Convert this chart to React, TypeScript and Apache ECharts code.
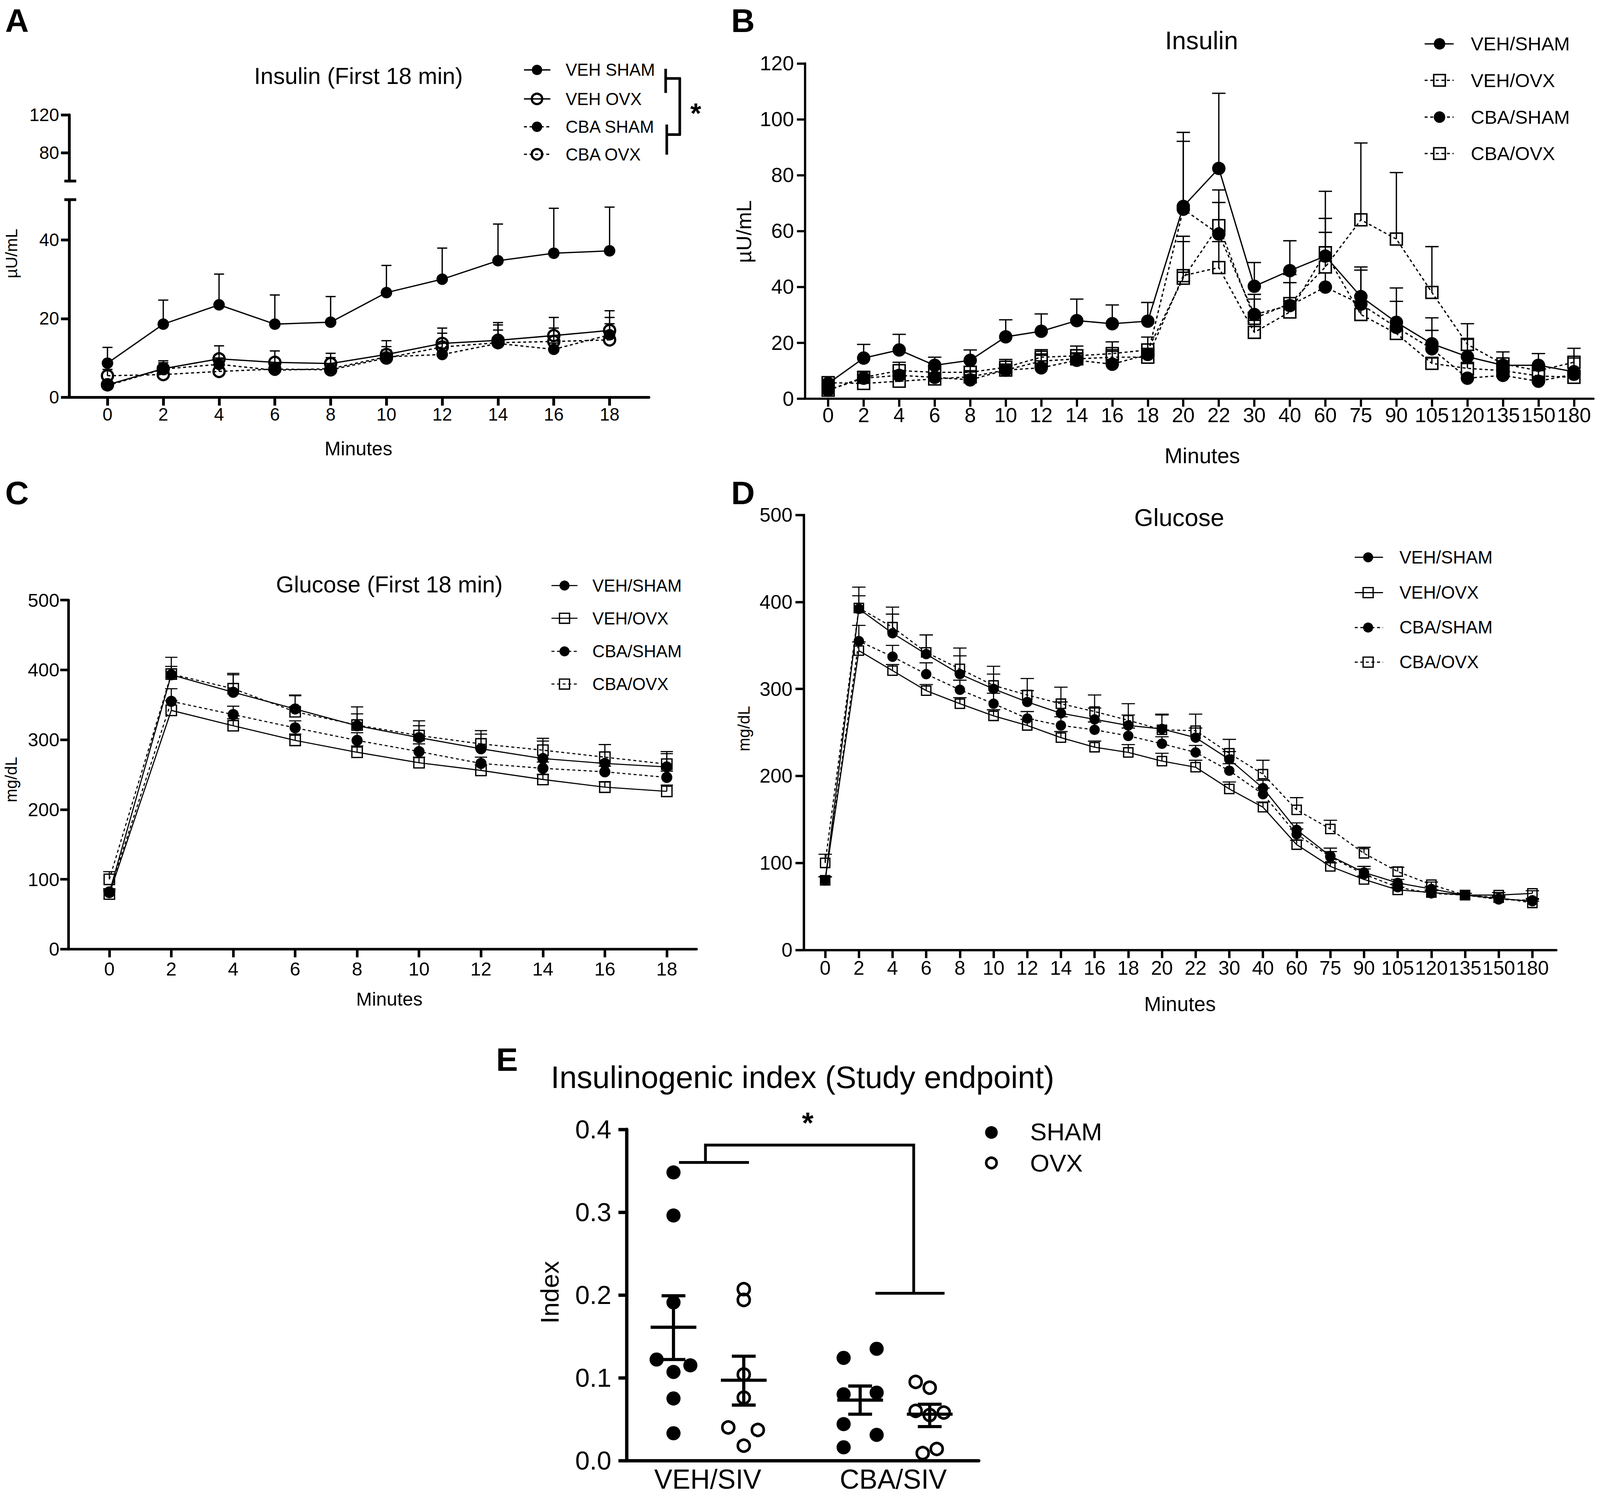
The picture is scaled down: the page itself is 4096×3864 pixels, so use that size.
import { useEffect, useRef } from 'react';
import * as echarts from 'echarts';

const K = 0.952;
const S = (v: number) => v * K;
const FONT = '"Liberation Sans", Arial, Helvetica, sans-serif';
const BLACK = '#000000';
const OPEN = 'rgba(255,255,255,0)';

// ---------------- Panel A : Insulin (first 18 min)
const minutesA = [0, 2, 4, 6, 8, 10, 12, 14, 16, 18];
const aLowerTicks = [0, 20, 40];
const aUpperTicks = [80, 120];
const aVehSham = [8.7, 18.6, 23.5, 18.6, 19.1, 26.6, 30.0, 34.7, 36.6, 37.2];
const aVehShamUp = [12.7, 24.7, 31.3, 26.0, 25.6, 33.5, 37.9, 44.0, 48.0, 48.3];
const aVehOvx = [3.2, 7.3, 9.8, 8.9, 8.6, 10.9, 13.7, 14.5, 15.7, 17.0];
const aVehOvxUp = [4.2, 9.3, 13.1, 11.8, 11.2, 14.4, 17.6, 19.0, 20.3, 22.0];
const aCbaSham = [3.0, 7.2, 8.4, 6.9, 7.3, 10.3, 10.9, 13.7, 12.2, 15.9];
const aCbaShamUp = [3.8, 8.8, 10.0, 8.3, 8.6, 12.1, 12.5, 17.1, 13.8, 18.7];
const aCbaOvx = [5.5, 5.8, 6.6, 7.2, 7.0, 10.0, 12.8, 13.9, 14.2, 14.6];
const aCbaOvxUp = [7.1, 7.2, 8.0, 8.6, 10.1, 12.9, 16.3, 18.4, 17.6, 20.3];

// ---------------- Panels B & D : full time course (categorical minutes)
const minuteLabels = ['0', '2', '4', '6', '8', '10', '12', '14', '16', '18', '20', '22', '30', '40', '60', '75', '90', '105', '120', '135', '150', '180'];
const idxFull = minuteLabels.map((_, i) => i);
const bTicks = [0, 20, 40, 60, 80, 100, 120];
const bVehSham = [5.4, 14.5, 17.4, 11.9, 13.7, 22.1, 24.1, 27.9, 26.8, 27.7, 68.8, 82.4, 40.2, 45.8, 51.0, 36.5, 27.3, 19.6, 15.0, 11.9, 11.9, 9.6];
const bVehShamUp = [6.8, 19.4, 23.0, 14.8, 17.4, 28.2, 30.3, 35.6, 33.5, 34.4, 95.3, 109.3, 48.7, 56.5, 74.2, 47.1, 39.6, 28.9, 21.2, 16.7, 16.1, 18.0];
const bVehOvx = [5.7, 5.4, 6.2, 7.0, 7.8, 10.2, 13.4, 14.2, 14.8, 14.8, 44.0, 46.9, 23.7, 31.0, 52.2, 30.1, 23.3, 12.6, 10.8, 10.0, 8.1, 7.6];
const bVehOvxUp = [6.5, 7.0, 8.0, 8.8, 9.5, 12.0, 16.0, 17.5, 17.5, 17.5, 56.2, 56.2, 28.0, 35.0, 64.5, 36.9, 26.0, 14.5, 12.5, 11.5, 10.0, 9.0];
const bCbaSham = [3.0, 7.3, 8.3, 7.6, 6.7, 10.2, 11.0, 13.7, 12.3, 15.8, 67.8, 58.9, 30.1, 33.3, 39.9, 33.8, 25.5, 17.8, 7.3, 8.3, 6.2, 8.7];
const bCbaShamUp = [4.5, 8.5, 10.0, 9.0, 8.5, 12.0, 13.5, 16.0, 14.0, 18.0, 92.1, 70.2, 37.3, 41.5, 45.0, 46.0, 34.8, 24.4, 8.5, 9.5, 7.5, 10.0];
const bCbaOvx = [3.0, 7.6, 10.0, 9.4, 9.4, 11.2, 14.8, 15.3, 16.1, 17.4, 43.1, 61.9, 28.7, 34.0, 47.1, 64.0, 57.1, 38.0, 19.4, 12.4, 10.0, 13.0];
const bCbaOvxUp = [4.5, 9.5, 13.0, 11.5, 11.5, 14.0, 17.5, 18.8, 20.3, 22.0, 58.1, 74.7, 35.6, 44.4, 59.5, 91.5, 80.9, 54.4, 26.8, 13.5, 11.5, 14.5];

// ---------------- Panel C : Glucose (first 18 min)
const glucoseTicks = [0, 100, 200, 300, 400, 500];
const cVehSham = [81, 393, 368, 344, 320, 303, 287, 273, 266, 261];
const cVehShamUp = [86, 418, 395, 364, 347, 327, 313, 302, 293, 283];
const cVehOvx = [79, 342, 320, 299, 282, 267, 256, 243, 232, 226];
const cVehOvxUp = [83, 356, 330, 308, 291, 275, 264, 250, 240, 235];
const cCbaSham = [82, 355, 336, 317, 299, 283, 266, 259, 254, 246];
const cCbaShamUp = [86, 373, 348, 327, 310, 294, 275, 268, 262, 255];
const cCbaOvx = [100, 394, 373, 340, 321, 306, 294, 285, 275, 265];
const cCbaOvxUp = [111, 405, 393, 363, 337, 320, 308, 298, 293, 280];

// ---------------- Panel D : Glucose (full)
const dVehSham = [80, 392, 364, 340, 317, 300, 285, 272, 265, 258, 254, 244, 219, 186, 138, 108, 89, 77, 70, 63, 59, 56];
const dVehShamUp = [84, 417, 386, 362, 338, 317, 298, 285, 278, 270, 271, 255, 228, 195, 146, 117, 96, 81, 73, 65, 61, 58];
const dVehOvx = [80, 344, 321, 298, 283, 269, 258, 244, 233, 227, 217, 210, 185, 164, 121, 96, 81, 69, 66, 63, 63, 65];
const dVehOvxUp = [84, 354, 328, 305, 290, 276, 265, 251, 240, 236, 226, 218, 193, 170, 126, 100, 85, 72, 69, 65, 66, 68];
const dCbaSham = [80, 355, 337, 317, 299, 283, 266, 258, 253, 246, 237, 227, 206, 179, 133, 107, 87, 72, 65, 63, 58, 57];
const dCbaShamUp = [84, 373, 350, 330, 310, 295, 274, 268, 262, 255, 245, 235, 214, 186, 139, 113, 93, 76, 68, 65, 60, 59];
const dCbaOvx = [100, 393, 371, 342, 323, 304, 293, 283, 274, 264, 253, 252, 226, 202, 161, 139, 111, 90, 75, 63, 60, 54];
const dCbaOvxUp = [110, 407, 394, 362, 347, 326, 312, 302, 293, 283, 270, 271, 242, 218, 175, 149, 118, 95, 78, 65, 62, 56];

// ---------------- Panel E : Insulinogenic index
const eGroupLabels = ['VEH/SIV', 'CBA/SIV'];
const eTicks = [0, 0.1, 0.2, 0.3, 0.4];
const eVehSham = [0.348, 0.296, 0.191, 0.122, 0.115, 0.107, 0.075, 0.033];
const eVehShamJit = [0, 0, 0, -0.24, 0.24, 0, 0, 0];
const eVehOvx = [0.207, 0.194, 0.104, 0.076, 0.040, 0.037, 0.018];
const eVehOvxJit = [0, 0, 0, 0, -0.22, 0.2, 0];
const eCbaSham = [0.135, 0.124, 0.082, 0.080, 0.044, 0.031, 0.016];
const eCbaShamJit = [0.235, -0.235, 0.235, -0.235, -0.235, 0.235, -0.235];
const eCbaOvx = [0.095, 0.088, 0.060, 0.058, 0.055, 0.014, 0.009];
const eCbaOvxJit = [-0.2, 0, -0.2, 0.2, 0, 0.1, -0.1];
const eMean = [0.161, 0.097, 0.073, 0.056];
const eSemLow = [0.122, 0.067, 0.056, 0.041];
const eSemHigh = [0.199, 0.126, 0.090, 0.068];
const eSig = { leftBarY: 0.36, topY: 0.381, rightBarY: 0.202, starY: 0.408 };

// ---------------- layout (reference pixels, scaled by S)
const E_COLS = [1, 2, 3.656, 4.646];
const E_LABEL_X = [1.487, 4.127];

function errorBars(ax: number, xs: number[], means: number[], ups: number[], cap: number, lw: number) {
  return {
    type: 'custom', xAxisIndex: ax, yAxisIndex: ax, clip: false, silent: true, z: 2,
    data: xs.map((x, i) => [x, means[i], ups[i]]),
    encode: { x: 0, y: [1, 2] },
    renderItem: (_p: any, api: any) => {
      const a = api.coord([api.value(0), api.value(1)]);
      const b = api.coord([api.value(0), api.value(2)]);
      const hw = S(cap) / 2;
      const st = { stroke: BLACK, lineWidth: S(lw) };
      return {
        type: 'group', children: [
          { type: 'line', shape: { x1: a[0], y1: a[1], x2: b[0], y2: b[1] }, style: st },
          { type: 'line', shape: { x1: b[0] - hw, y1: b[1], x2: b[0] + hw, y2: b[1] }, style: st },
        ],
      };
    },
  };
}

function curve(ax: number, xs: number[], ys: number[], o: any) {
  return {
    type: 'line', xAxisIndex: ax, yAxisIndex: ax, z: 3, silent: true,
    data: xs.map((x, i) => [x, ys[i]]),
    symbol: o.symbol, symbolSize: S(o.size), showSymbol: true, showAllSymbol: true,
    lineStyle: { color: BLACK, width: S(o.lw), type: o.dashed ? [S(8), S(7)] : 'solid' },
    itemStyle: o.filled
      ? { color: BLACK, borderColor: BLACK, borderWidth: 0, opacity: 1 }
      : { color: OPEN, borderColor: BLACK, borderWidth: S(o.bw), opacity: 1 },
    emphasis: { disabled: true },
  };
}

function xAx(grid: number, min: number, max: number, ticks: number[] | null, fmt: any, fs: number, lw: number, margin: number) {
  return {
    type: 'value', gridIndex: grid, min, max,
    axisLine: { show: true, onZero: false, lineStyle: { color: BLACK, width: S(lw) } },
    axisTick: ticks ? { show: true, customValues: ticks, length: S(22), lineStyle: { color: BLACK, width: S(lw) } } : { show: false },
    axisLabel: { show: true, customValues: ticks || E_LABEL_X, formatter: fmt, fontSize: S(fs), fontFamily: FONT, color: BLACK, margin: S(margin) },
    splitLine: { show: false },
  };
}

function yAx(grid: number, min: number, max: number, ticks: number[], fmt: any, fs: number, lw: number, margin: number) {
  return {
    type: 'value', gridIndex: grid, min, max,
    axisLine: { show: true, onZero: false, lineStyle: { color: BLACK, width: S(lw) } },
    axisTick: { show: true, customValues: ticks, length: S(22), lineStyle: { color: BLACK, width: S(lw) } },
    axisLabel: { show: true, customValues: ticks, formatter: fmt, fontSize: S(fs), fontFamily: FONT, color: BLACK, margin: S(margin) },
    splitLine: { show: false },
  };
}

function gridBox(l: number, t: number, r: number, b: number) {
  return { left: S(l), top: S(t), width: S(r - l), height: S(b - t), containLabel: false, outerBoundsMode: 'none' };
}

const g: any[] = [];
function txt(x: number, y: number, text: string, size: number, o: any = {}) {
  const align = o.align || 'center';
  g.push({
    type: 'text', x: S(x), y: S(y), rotation: o.rot || 0, silent: true,
    style: {
      text, x: 0, y: 0, fontSize: S(size), fontFamily: FONT, fontWeight: o.bold ? 'bold' : 'normal',
      fill: BLACK, align, verticalAlign: 'middle', textAlign: align, textVerticalAlign: 'middle',
    },
  });
}
function seg(x1: number, y1: number, x2: number, y2: number, w: number, dashed = false) {
  g.push({
    type: 'line', silent: true, shape: { x1: S(x1), y1: S(y1), x2: S(x2), y2: S(y2) },
    style: { stroke: BLACK, lineWidth: S(w), lineDash: dashed ? [S(8), S(7)] : null },
  });
}
function marker(kind: string, filled: boolean, cx: number, cy: number, size: number, bw: number) {
  if (kind === 'circle') {
    g.push({ type: 'circle', silent: true, shape: { cx: S(cx), cy: S(cy), r: S(size / 2) }, style: { fill: filled ? BLACK : OPEN, stroke: BLACK, lineWidth: filled ? 0 : S(bw) } });
  } else {
    g.push({ type: 'rect', silent: true, shape: { x: S(cx - size / 2), y: S(cy - size / 2), width: S(size), height: S(size) }, style: { fill: filled ? BLACK : OPEN, stroke: BLACK, lineWidth: S(bw) } });
  }
}
function legendBlock(rows: any[], mx: number, lx1: number, lx2: number, tx: number, ys: number[], fs: number, msize: number, lw: number, bw: number) {
  rows.forEach((r, i) => {
    seg(lx1, ys[i], lx2, ys[i], lw, r.dashed);
    marker(r.kind, r.filled, mx, ys[i], msize, bw);
    txt(tx, ys[i], r.label, fs, { align: 'left' });
  });
}

// panel letters
txt(14, 56, 'A', 88, { bold: true, align: 'left' });
txt(1966, 56, 'B', 88, { bold: true, align: 'left' });
txt(14, 1326, 'C', 88, { bold: true, align: 'left' });
txt(1966, 1326, 'D', 88, { bold: true, align: 'left' });
txt(1334, 2850, 'E', 88, { bold: true, align: 'left' });

// Panel A texts
txt(964, 205, 'Insulin (First 18 min)', 62);
txt(964, 1206, 'Minutes', 52);
txt(30, 682, 'µU/mL', 45, { rot: Math.PI / 2 });
legendBlock(
  [
    { label: 'VEH SHAM', kind: 'circle', filled: true, dashed: false },
    { label: 'VEH OVX', kind: 'circle', filled: false, dashed: false },
    { label: 'CBA SHAM', kind: 'circle', filled: true, dashed: true },
    { label: 'CBA OVX', kind: 'circle', filled: false, dashed: true },
  ],
  1444, 1409, 1480, 1521, [188, 266, 341, 415], 46, 28, 3.5, 6,
);
// significance bracket A
seg(1790, 185, 1790, 250, 7);
seg(1790, 211, 1831, 211, 7);
seg(1793, 335, 1793, 416, 7);
seg(1793, 362, 1831, 362, 7);
seg(1828, 211, 1828, 362, 7);
txt(1871, 305, '*', 75, { bold: true });
// axis break caps A
seg(173, 537, 205, 537, 7.5);
seg(173, 487, 205, 487, 7.5);

// Panel B texts
txt(3231, 109, 'Insulin', 68);
txt(3233, 1226, 'Minutes', 58);
txt(2000, 623, 'µU/mL', 57, { rot: Math.PI / 2 });
legendBlock(
  [
    { label: 'VEH/SHAM', kind: 'circle', filled: true, dashed: false },
    { label: 'VEH/OVX', kind: 'rect', filled: false, dashed: true },
    { label: 'CBA/SHAM', kind: 'circle', filled: true, dashed: true },
    { label: 'CBA/OVX', kind: 'rect', filled: false, dashed: true },
  ],
  3871, 3831, 3909, 3955, [118, 216, 315, 413], 51, 31, 3.5, 4,
);

// Panel C texts
txt(1047, 1573, 'Glucose (First 18 min)', 62);
txt(1047, 2687, 'Minutes', 51);
txt(30, 2097, 'mg/dL', 44, { rot: Math.PI / 2 });
legendBlock(
  [
    { label: 'VEH/SHAM', kind: 'circle', filled: true, dashed: false },
    { label: 'VEH/OVX', kind: 'rect', filled: false, dashed: false },
    { label: 'CBA/SHAM', kind: 'circle', filled: true, dashed: true },
    { label: 'CBA/OVX', kind: 'rect', filled: false, dashed: true },
  ],
  1518, 1483, 1553, 1593, [1575, 1663, 1752, 1840], 46, 27, 3, 3.5,
);

// Panel D texts
txt(3171, 1392, 'Glucose', 66);
txt(3173, 2701, 'Minutes', 55);
txt(2000, 1960, 'mg/dL', 44, { rot: Math.PI / 2 });
legendBlock(
  [
    { label: 'VEH/SHAM', kind: 'circle', filled: true, dashed: false },
    { label: 'VEH/OVX', kind: 'rect', filled: false, dashed: false },
    { label: 'CBA/SHAM', kind: 'circle', filled: true, dashed: true },
    { label: 'CBA/OVX', kind: 'rect', filled: false, dashed: true },
  ],
  3679, 3643, 3719, 3763, [1499, 1594, 1688, 1781], 48, 27, 3, 3.5,
);

// Panel E texts
txt(2158, 2898, 'Insulinogenic index (Study endpoint)', 84);
txt(1478, 3476, 'Index', 69, { rot: Math.PI / 2 });
marker('circle', true, 2666, 3046, 34, 5);
marker('circle', false, 2666, 3128, 28, 7);
txt(2770, 3044, 'SHAM', 67, { align: 'left' });
txt(2770, 3128, 'OVX', 67, { align: 'left' });

const fmtInt = (v: number) => String(Math.round(v));
const fmtCat = (v: number) => minuteLabels[Math.round(v)] ?? '';

const filledDot = { color: BLACK, opacity: 1 };
const openDot = { color: OPEN, borderColor: BLACK, borderWidth: S(7), opacity: 1 };

const option: any = {
  animation: false,
  backgroundColor: '#ffffff',
  grid: [
    gridBox(186, 538, 1745, 1069), // 0 A lower
    gridBox(186, 309, 1745, 487), // 1 A upper
    gridBox(2165, 170.5, 4285, 1072), // 2 B
    gridBox(184, 1614, 1873, 2553), // 3 C
    gridBox(2161, 1385, 4185, 2555), // 4 D
    gridBox(1685, 3037.7, 2632, 3928.5), // 5 E
  ],
  xAxis: [
    xAx(0, -1.373, 19.41, minutesA, fmtInt, 48, 7.5, 22),
    { type: 'value', gridIndex: 1, min: -1.373, max: 19.41, show: false },
    xAx(2, -0.649, 21.55, idxFull, fmtCat, 55, 6, 17),
    xAx(3, -1.321, 18.96, minutesA, fmtInt, 51, 7, 27),
    xAx(4, -0.64, 21.71, idxFull, fmtCat, 53, 6.5, 22),
    xAx(5, 0.333, 5.344, null, (v: number) => (v < 3 ? eGroupLabels[0] : eGroupLabels[1]), 73, 9, 14),
  ],
  yAxis: [
    yAx(0, 0, 50.1, aLowerTicks, fmtInt, 48, 7.5, 27),
    yAx(1, 50, 120, aUpperTicks, fmtInt, 48, 7.5, 27),
    yAx(2, 0, 120, bTicks, fmtInt, 55, 6, 30),
    yAx(3, 0, 500, glucoseTicks, fmtInt, 51, 7, 24),
    yAx(4, 0, 500, glucoseTicks, fmtInt, 53, 6.5, 30),
    yAx(5, 0, 0.4, eTicks, (v: number) => v.toFixed(1), 70, 9, 41),
  ],
  graphic: { elements: g },
  series: [
    // Panel A
    errorBars(0, minutesA, aCbaOvx, aCbaOvxUp, 27, 3.5),
    errorBars(0, minutesA, aCbaSham, aCbaShamUp, 27, 3.5),
    errorBars(0, minutesA, aVehOvx, aVehOvxUp, 27, 3.5),
    errorBars(0, minutesA, aVehSham, aVehShamUp, 27, 3.5),
    curve(0, minutesA, aCbaOvx, { symbol: 'circle', size: 30, lw: 3.5, dashed: true, filled: false, bw: 6 }),
    curve(0, minutesA, aCbaSham, { symbol: 'circle', size: 31, lw: 3.5, dashed: true, filled: true }),
    curve(0, minutesA, aVehOvx, { symbol: 'circle', size: 30, lw: 3.5, dashed: false, filled: false, bw: 6 }),
    curve(0, minutesA, aVehSham, { symbol: 'circle', size: 31, lw: 3.5, dashed: false, filled: true }),
    // Panel B
    errorBars(2, idxFull, bCbaOvx, bCbaOvxUp, 36, 3.5),
    errorBars(2, idxFull, bVehOvx, bVehOvxUp, 36, 3.5),
    errorBars(2, idxFull, bCbaSham, bCbaShamUp, 36, 3.5),
    errorBars(2, idxFull, bVehSham, bVehShamUp, 36, 3.5),
    curve(2, idxFull, bCbaOvx, { symbol: 'rect', size: 32, lw: 3.5, dashed: true, filled: false, bw: 4 }),
    curve(2, idxFull, bVehOvx, { symbol: 'rect', size: 32, lw: 3.5, dashed: true, filled: false, bw: 4 }),
    curve(2, idxFull, bCbaSham, { symbol: 'circle', size: 36, lw: 3.5, dashed: true, filled: true }),
    curve(2, idxFull, bVehSham, { symbol: 'circle', size: 36, lw: 3.5, dashed: false, filled: true }),
    // Panel C
    errorBars(3, minutesA, cCbaOvx, cCbaOvxUp, 33, 3),
    errorBars(3, minutesA, cVehOvx, cVehOvxUp, 33, 3),
    errorBars(3, minutesA, cCbaSham, cCbaShamUp, 33, 3),
    errorBars(3, minutesA, cVehSham, cVehShamUp, 33, 3),
    curve(3, minutesA, cCbaOvx, { symbol: 'rect', size: 28, lw: 3, dashed: true, filled: false, bw: 3.5 }),
    curve(3, minutesA, cVehOvx, { symbol: 'rect', size: 28, lw: 3, dashed: false, filled: false, bw: 3.5 }),
    curve(3, minutesA, cCbaSham, { symbol: 'circle', size: 30, lw: 3, dashed: true, filled: true }),
    curve(3, minutesA, cVehSham, { symbol: 'circle', size: 30, lw: 3, dashed: false, filled: true }),
    // Panel D
    errorBars(4, idxFull, dCbaOvx, dCbaOvxUp, 36, 3),
    errorBars(4, idxFull, dVehOvx, dVehOvxUp, 36, 3),
    errorBars(4, idxFull, dCbaSham, dCbaShamUp, 36, 3),
    errorBars(4, idxFull, dVehSham, dVehShamUp, 36, 3),
    curve(4, idxFull, dCbaOvx, { symbol: 'rect', size: 25, lw: 3, dashed: true, filled: false, bw: 3.5 }),
    curve(4, idxFull, dVehOvx, { symbol: 'rect', size: 25, lw: 3, dashed: false, filled: false, bw: 3.5 }),
    curve(4, idxFull, dCbaSham, { symbol: 'circle', size: 28, lw: 3, dashed: true, filled: true }),
    curve(4, idxFull, dVehSham, { symbol: 'circle', size: 28, lw: 3, dashed: false, filled: true }),
    // Panel E scatter
    {
      type: 'scatter', xAxisIndex: 5, yAxisIndex: 5, z: 3, silent: true, symbol: 'circle', symbolSize: S(38),
      data: eVehSham.map((v, i) => [E_COLS[0] + eVehShamJit[i], v]), itemStyle: filledDot,
    },
    {
      type: 'scatter', xAxisIndex: 5, yAxisIndex: 5, z: 3, silent: true, symbol: 'circle', symbolSize: S(32),
      data: eVehOvx.map((v, i) => [E_COLS[1] + eVehOvxJit[i], v]), itemStyle: openDot,
    },
    {
      type: 'scatter', xAxisIndex: 5, yAxisIndex: 5, z: 3, silent: true, symbol: 'circle', symbolSize: S(38),
      data: eCbaSham.map((v, i) => [E_COLS[2] + eCbaShamJit[i], v]), itemStyle: filledDot,
    },
    {
      type: 'scatter', xAxisIndex: 5, yAxisIndex: 5, z: 3, silent: true, symbol: 'circle', symbolSize: S(32),
      data: eCbaOvx.map((v, i) => [E_COLS[3] + eCbaOvxJit[i], v]), itemStyle: openDot,
    },
    // Panel E mean ± SEM
    {
      type: 'custom', xAxisIndex: 5, yAxisIndex: 5, clip: false, silent: true, z: 4,
      data: E_COLS.map((c, i) => [c, eMean[i], eSemLow[i], eSemHigh[i]]),
      encode: { x: 0, y: [1, 2, 3] },
      renderItem: (_p: any, api: any) => {
        const m = api.coord([api.value(0), api.value(1)]);
        const lo = api.coord([api.value(0), api.value(2)]);
        const hi = api.coord([api.value(0), api.value(3)]);
        const st = { stroke: BLACK, lineWidth: S(8.5) };
        const mw = S(61.5), cw = S(32);
        return {
          type: 'group', children: [
            { type: 'line', shape: { x1: m[0] - mw, y1: m[1], x2: m[0] + mw, y2: m[1] }, style: st },
            { type: 'line', shape: { x1: lo[0], y1: lo[1], x2: hi[0], y2: hi[1] }, style: st },
            { type: 'line', shape: { x1: lo[0] - cw, y1: lo[1], x2: lo[0] + cw, y2: lo[1] }, style: st },
            { type: 'line', shape: { x1: hi[0] - cw, y1: hi[1], x2: hi[0] + cw, y2: hi[1] }, style: st },
          ],
        };
      },
    },
    // Panel E significance bracket
    {
      type: 'custom', xAxisIndex: 5, yAxisIndex: 5, clip: false, silent: true, z: 4,
      data: [[E_COLS[0], eSig.topY]],
      renderItem: (_p: any, api: any) => {
        const c = (x: number, y: number) => api.coord([x, y]);
        const st = { stroke: BLACK, lineWidth: S(7.5), fill: null };
        const l1 = c(1.079, eSig.leftBarY), l2 = c(2.074, eSig.leftBarY);
        const p = [c(1.455, eSig.leftBarY), c(1.455, eSig.topY), c(4.418, eSig.topY), c(4.418, eSig.rightBarY)];
        const r1 = c(3.873, eSig.rightBarY), r2 = c(4.857, eSig.rightBarY);
        const star = c(2.91, eSig.starY);
        return {
          type: 'group', children: [
            { type: 'line', shape: { x1: l1[0], y1: l1[1], x2: l2[0], y2: l2[1] }, style: st },
            { type: 'polyline', shape: { points: p }, style: st },
            { type: 'line', shape: { x1: r1[0], y1: r1[1], x2: r2[0], y2: r2[1] }, style: st },
            {
              type: 'text', x: star[0], y: star[1],
              style: { text: '*', fontSize: S(80), fontWeight: 'bold', fontFamily: FONT, fill: BLACK, align: 'center', verticalAlign: 'middle', textAlign: 'center', textVerticalAlign: 'middle' },
            },
          ],
        };
      },
    },
  ],
};

export default function App() {
  const ref = useRef<HTMLDivElement>(null);
  useEffect(() => {
    document.body.style.margin = '0';
    const chart = echarts.init(ref.current as HTMLDivElement, undefined, { renderer: 'svg', width: 4096, height: 3864 });
    chart.setOption(option);
    return () => chart.dispose();
  }, []);
  return <div ref={ref} style={{ width: 4096, height: 3864, position: 'absolute', left: 0, top: 0, background: '#fff' }} />;
}
